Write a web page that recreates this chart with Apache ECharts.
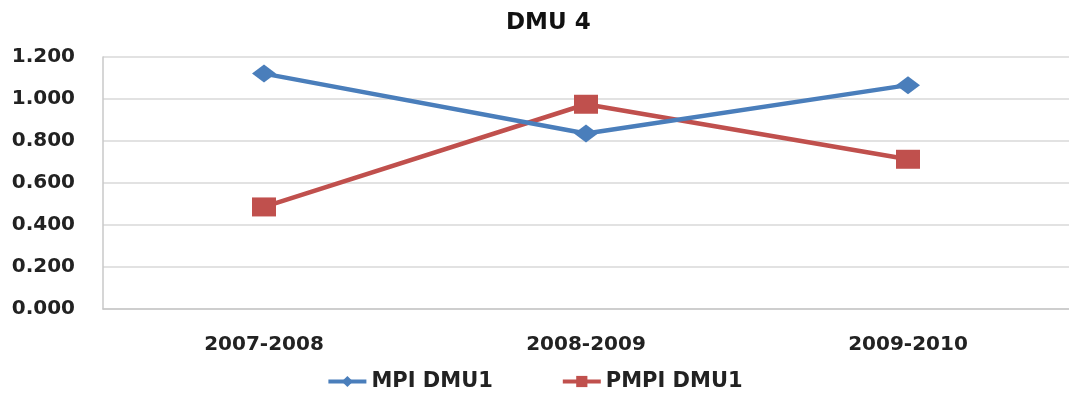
<!DOCTYPE html>
<html>
<head>
<meta charset="utf-8">
<script src="https://cdn.jsdelivr.net/npm/echarts@6/dist/echarts.min.js"></script>
<style>
  html, body { margin: 0; padding: 0; background: #fff; }
  #chart { width: 1069px; height: 399px; }
</style>
</head>
<body>
<div id="chart"></div>
<script>
// Periods and index values for DMU 4
const periods = ['2007-2008', '2008-2009', '2009-2010'];
const mpiValues = [1.121, 0.836, 1.066];
const pmpiValues = [0.486, 0.975, 0.713];
const yTicks = { min: 0, max: 1.2, interval: 0.2 };

const font = '"DejaVu Sans", "Liberation Sans", sans-serif';
const blue = '#4A7EBB';
const red = '#C0504D';

const chart = echarts.init(document.getElementById('chart'), null, { renderer: 'canvas' });
chart.setOption({
  animation: false,
  backgroundColor: '#ffffff',
  title: {
    text: 'DMU 4',
    left: 501,
    top: 7,
    textStyle: { fontFamily: font, fontSize: 23, fontWeight: 'bold', color: '#111' }
  },
  legend: {
    bottom: 2,
    left: 'center',
    itemGap: 68,
    itemWidth: 38,
    itemHeight: 14,
    lineStyle: { width: 4 },
    textStyle: { fontFamily: font, fontSize: 21, fontWeight: 'bold', color: '#222' },
    data: ['MPI DMU1', 'PMPI DMU1']
  },
  grid: { left: 103, top: 57, width: 975, height: 252 },
  xAxis: {
    type: 'category',
    data: periods,
    boundaryGap: true,
    axisLine: { show: true, lineStyle: { color: '#c8c8c8', width: 1.5 } },
    axisTick: { show: false },
    axisLabel: { margin: 26, fontFamily: font, fontSize: 20, fontWeight: 'bold', color: '#222' }
  },
  yAxis: {
    type: 'value',
    min: yTicks.min,
    max: yTicks.max,
    interval: yTicks.interval,
    axisLine: { show: true, lineStyle: { color: '#c8c8c8', width: 1.5 } },
    axisTick: { show: false },
    splitLine: { show: true, lineStyle: { color: '#d9d9d9', width: 1.5 } },
    axisLabel: {
      margin: 28,
      fontFamily: font, fontSize: 20, fontWeight: 'bold', color: '#222',
      formatter: v => v.toFixed(3)
    }
  },
  series: [
    {
      name: 'MPI DMU1',
      type: 'line',
      data: mpiValues,
      symbol: 'diamond',
      symbolSize: [24, 18],
      lineStyle: { color: blue, width: 4.5 },
      itemStyle: { color: blue },
      z: 3
    },
    {
      name: 'PMPI DMU1',
      type: 'line',
      data: pmpiValues,
      symbol: 'rect',
      symbolSize: [24, 19],
      lineStyle: { color: red, width: 4.5 },
      itemStyle: { color: red },
      z: 2
    }
  ]
});
</script>
</body>
</html>
